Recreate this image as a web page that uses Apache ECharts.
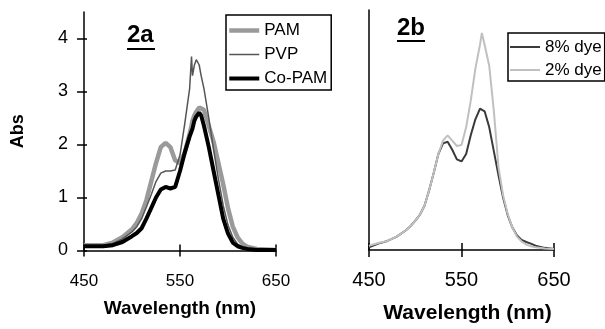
<!DOCTYPE html>
<html>
<head>
<meta charset="utf-8">
<script src="https://cdn.jsdelivr.net/npm/echarts@6/dist/echarts.min.js"></script>
<style>
  html, body { margin: 0; padding: 0; background: #fff; }
  #chart { width: 605px; height: 329px; }
</style>
</head>
<body>
<div id="chart"></div>
<script>
// panel 2a
const wlA = [450, 460, 470, 480, 490, 500, 505, 510, 515, 520, 525, 530, 535, 540, 545, 550, 555, 560, 562, 563, 565, 567, 570, 572, 575, 580, 585, 590, 595, 600, 605, 610, 615, 620, 625, 630, 640, 650]
const pamAbs = [0.1, 0.1, 0.1, 0.15, 0.25, 0.4, 0.52, 0.7, 0.95, 1.3, 1.65, 1.95, 2.03, 1.95, 1.7, 1.65, 1.85, 2.2, 2.35, 2.45, 2.55, 2.62, 2.7, 2.7, 2.65, 2.35, 2.05, 1.65, 1.25, 0.8, 0.45, 0.25, 0.13, 0.07, 0.05, 0.03, 0.02, 0.01]
const pvpAbs = [0.08, 0.08, 0.1, 0.13, 0.22, 0.35, 0.45, 0.6, 0.82, 1.05, 1.3, 1.46, 1.5, 1.5, 1.52, 1.8, 2.4, 3.05, 3.66, 3.3, 3.5, 3.6, 3.5, 3.3, 3.05, 2.5, 1.9, 1.35, 0.85, 0.48, 0.25, 0.12, 0.06, 0.04, 0.03, 0.02, 0.01, 0.01]
const copamAbs = [0.08, 0.08, 0.08, 0.1, 0.16, 0.27, 0.33, 0.42, 0.6, 0.8, 1.0, 1.15, 1.2, 1.17, 1.2, 1.5, 1.85, 2.15, 2.25, 2.3, 2.45, 2.53, 2.6, 2.55, 2.35, 1.95, 1.5, 1.05, 0.6, 0.32, 0.15, 0.08, 0.05, 0.03, 0.02, 0.01, 0.01, 0.01]

// panel 2b
const wlB = [450, 460, 470, 480, 490, 495, 500, 505, 510, 515, 520, 525, 530, 535, 540, 545, 550, 555, 560, 565, 570, 572, 575, 580, 585, 590, 595, 600, 605, 610, 615, 620, 625, 630, 640, 650]
const dye8Abs = [0.05, 0.12, 0.17, 0.25, 0.37, 0.45, 0.55, 0.66, 0.83, 1.12, 1.45, 1.8, 2.0, 2.03, 1.88, 1.7, 1.66, 1.8, 2.15, 2.45, 2.65, 2.67, 2.6, 2.3, 1.85, 1.4, 0.98, 0.65, 0.42, 0.27, 0.19, 0.15, 0.12, 0.08, 0.04, 0.02]
const dye2Abs = [0.08, 0.13, 0.17, 0.25, 0.37, 0.45, 0.55, 0.66, 0.83, 1.12, 1.45, 1.8, 2.05, 2.15, 2.05, 1.95, 1.97, 2.3, 2.8, 3.4, 3.85, 4.07, 3.85, 3.45, 2.6, 1.55, 1.02, 0.67, 0.42, 0.25, 0.16, 0.1, 0.07, 0.05, 0.03, 0.02]

const xTicks = [450, 550, 650]
const yTicks = [0, 1, 2, 3, 4]

const font = "'Liberation Sans', Arial, sans-serif"

const pairs = (xs, ys) => xs.map((x, i) => [x, ys[i]])

const chart = echarts.init(document.getElementById("chart"))

const axisLine = { show: true, onZero: false, lineStyle: { color: "#000", width: 1.5 } }

function xAxisPair(gridIndex, labelSize, labelMargin, nameSize, nameGap, namePad, tickLen) {
  return [
    {
      type: "value",
      gridIndex: gridIndex,
      position: "bottom",
      min: 450,
      max: 650,
      interval: 100,
      axisLine: axisLine,
      axisTick: { show: true, customValues: xTicks, length: tickLen, lineStyle: { color: "#000", width: 1.5 } },
      axisLabel: { customValues: xTicks, margin: labelMargin, color: "#000", fontSize: labelSize, fontFamily: font },
      splitLine: { show: false },
      name: "Wavelength (nm)",
      nameLocation: "middle",
      nameGap: nameGap,
      nameTextStyle: { fontSize: nameSize, fontWeight: "bold", fontFamily: font, color: "#000", padding: namePad },
    },
    {
      type: "value",
      gridIndex: gridIndex,
      position: "bottom",
      min: 450,
      max: 650,
      interval: 100,
      axisLine: { show: false },
      axisTick: { show: true, inside: true, customValues: xTicks, length: tickLen, lineStyle: { color: "#000", width: 1.5 } },
      axisLabel: { show: false },
      splitLine: { show: false },
    },
  ]
}

const option = {
  animation: false,
  backgroundColor: "#fff",
  grid: [
    { left: 84, top: 12, width: 192, height: 238.5 },
    { left: 369, top: 10, width: 185, height: 246 },
  ],
  xAxis: [
    ...xAxisPair(0, 17, 22, 19, 49, [0, 0, 0, 0], 6),
    ...xAxisPair(1, 20, 20, 21, 53, [0, 0, 0, 12], 7),
  ],
  yAxis: [
    {
      type: "value",
      gridIndex: 0,
      position: "left",
      min: 0,
      max: 4.5,
      axisLine: axisLine,
      axisTick: { show: true, customValues: yTicks, length: 7, lineStyle: { color: "#000", width: 1.5 } },
      axisLabel: { customValues: yTicks, margin: 16, color: "#000", fontSize: 18, fontFamily: font },
      splitLine: { show: false },
      name: "Abs",
      nameLocation: "middle",
      nameGap: 57,
      nameTextStyle: { fontSize: 18, fontWeight: "bold", fontFamily: font, color: "#000" },
    },
    {
      type: "value",
      gridIndex: 0,
      position: "left",
      min: 0,
      max: 4.5,
      axisLine: { show: false },
      axisTick: { show: true, inside: true, customValues: yTicks, length: 3, lineStyle: { color: "#000", width: 1.5 } },
      axisLabel: { show: false },
      splitLine: { show: false },
    },
    {
      type: "value",
      gridIndex: 1,
      position: "left",
      min: 0,
      max: 4.5,
      axisLine: axisLine,
      axisTick: { show: false },
      axisLabel: { show: false },
      splitLine: { show: false },
    },
  ],
  legend: [
    {
      left: 226,
      top: 15,
      orient: "vertical",
      padding: [4, 4, 0, 1],
      itemGap: 1,
      itemWidth: 30,
      itemHeight: 12,
      borderColor: "#000",
      borderWidth: 1.5,
      itemStyle: { opacity: 0 },
      textStyle: { fontSize: 17, fontFamily: font, color: "#000", lineHeight: 23 },
      data: [
        { name: "PAM", lineStyle: { width: 4.5 } },
        { name: "PVP", lineStyle: { width: 1.5 } },
        { name: "Co-PAM", lineStyle: { width: 4 } },
      ],
    },
    {
      left: 508,
      top: 33,
      orient: "vertical",
      padding: [3, 3, 0, 1],
      itemGap: 1,
      itemWidth: 30,
      itemHeight: 12,
      borderColor: "#000",
      borderWidth: 1.5,
      itemStyle: { opacity: 0 },
      textStyle: { fontSize: 17, fontFamily: font, color: "#000", lineHeight: 22 },
      data: [
        { name: "8% dye", lineStyle: { width: 2 } },
        { name: "2% dye", lineStyle: { width: 2 } },
      ],
    },
  ],
  graphic: [
    { type: "text", left: 127, top: 23.5, style: { text: "2a", font: "bold 24px " + font, fill: "#000" } },
    { type: "line", shape: { x1: 127, y1: 49, x2: 155, y2: 49 }, style: { stroke: "#000", lineWidth: 2 } },
    { type: "text", left: 397, top: 16.5, style: { text: "2b", font: "bold 24px " + font, fill: "#000" } },
    { type: "line", shape: { x1: 397, y1: 41, x2: 425, y2: 41 }, style: { stroke: "#000", lineWidth: 2 } },
  ],
  series: [
    {
      name: "PAM",
      type: "line",
      xAxisIndex: 0,
      yAxisIndex: 0,
      data: pairs(wlA, pamAbs),
      symbol: "none",
      lineStyle: { color: "#9a9a9a", width: 4.5 },
      itemStyle: { color: "#9a9a9a" },
    },
    {
      name: "PVP",
      type: "line",
      xAxisIndex: 0,
      yAxisIndex: 0,
      data: pairs(wlA, pvpAbs),
      symbol: "none",
      lineStyle: { color: "#555", width: 1.5 },
      itemStyle: { color: "#555" },
    },
    {
      name: "Co-PAM",
      type: "line",
      xAxisIndex: 0,
      yAxisIndex: 0,
      data: pairs(wlA, copamAbs),
      symbol: "none",
      lineStyle: { color: "#000", width: 4 },
      itemStyle: { color: "#000" },
    },
    {
      name: "8% dye",
      type: "line",
      xAxisIndex: 2,
      yAxisIndex: 2,
      data: pairs(wlB, dye8Abs),
      symbol: "none",
      lineStyle: { color: "#3a3a3a", width: 2 },
      itemStyle: { color: "#3a3a3a" },
    },
    {
      name: "2% dye",
      type: "line",
      xAxisIndex: 2,
      yAxisIndex: 2,
      data: pairs(wlB, dye2Abs),
      symbol: "none",
      lineStyle: { color: "#c0c0c0", width: 2 },
      itemStyle: { color: "#c0c0c0" },
    },
  ],
}

chart.setOption(option)
</script>
</body>
</html>
